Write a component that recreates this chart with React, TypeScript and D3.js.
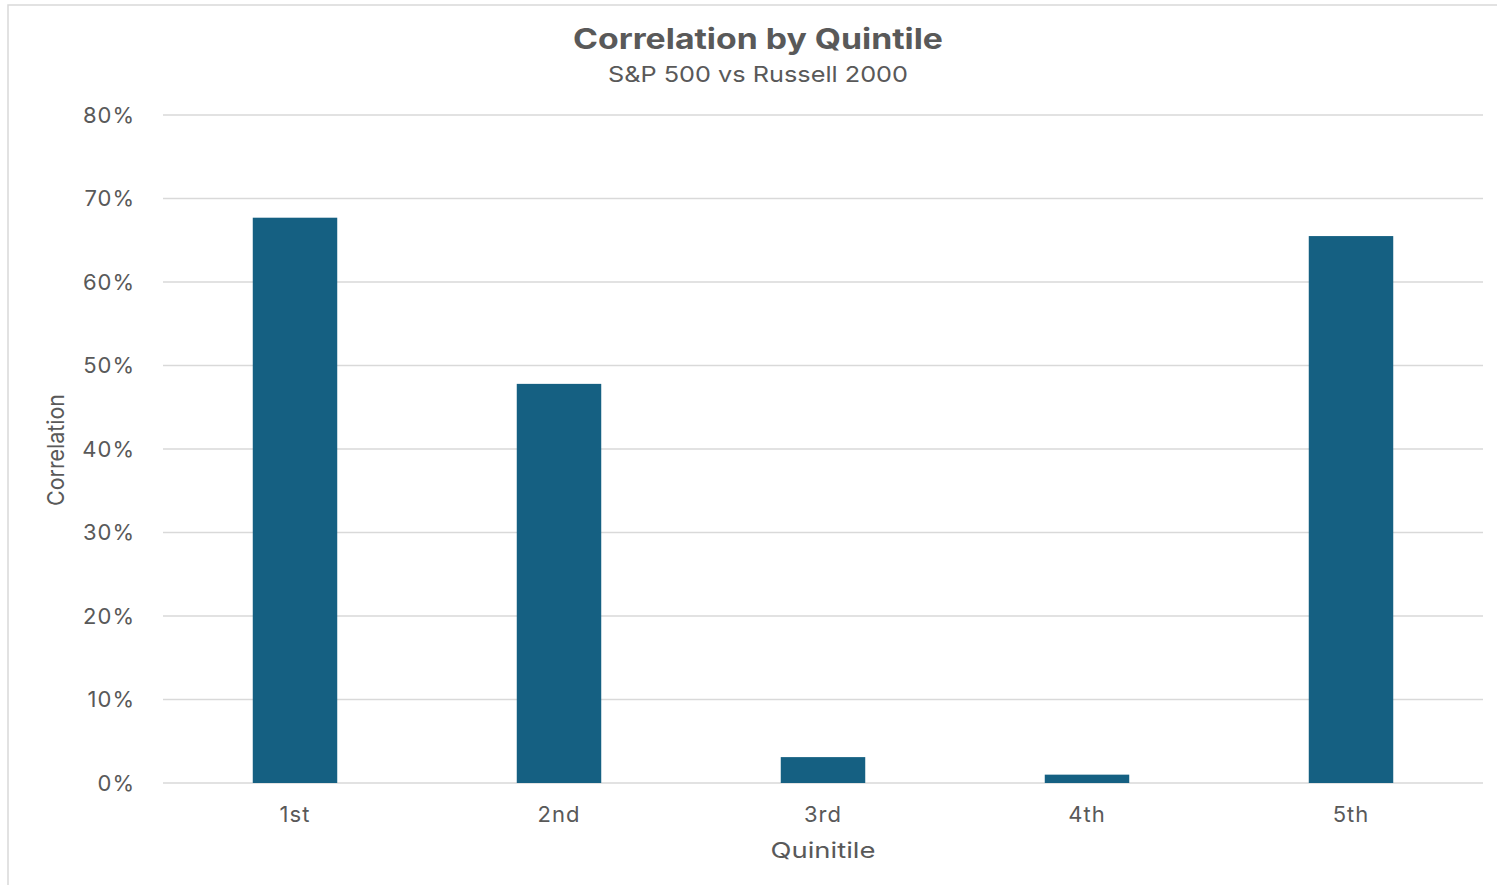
import { useEffect, useRef } from 'react';
import * as d3 from 'd3';

const categories = ['1st', '2nd', '3rd', '4th', '5th'];
const correlation = [0.677, 0.478, 0.031, 0.01, 0.655];
const yTicks = [0, 0.1, 0.2, 0.3, 0.4, 0.5, 0.6, 0.7, 0.8];

const W = 1497;
const H = 885;
const FONT = 'Inter, "Open Sans", sans-serif';
const TEXT = '#595959';

export default function App() {
  const svgRef = useRef<SVGSVGElement>(null);

  useEffect(() => {
    document.body.style.margin = '0';
    if (!svgRef.current) return;
    const svg = d3.select(svgRef.current);
    svg.selectAll('*').remove();

    const m = { top: 115, right: 14, bottom: 102, left: 163 };
    const x = d3.scaleBand<string>().domain(categories).range([m.left, W - m.right]).paddingInner(0.68).paddingOuter(0.34);
    const y = d3.scaleLinear().domain([0, 0.8]).range([H - m.bottom, m.top]);

    // frame
    svg.append('rect')
      .attr('x', 8).attr('y', 5).attr('width', W + 20).attr('height', H + 20)
      .attr('fill', 'white').attr('stroke', '#d9d9d9').attr('stroke-width', 1.5);

    // gridlines
    svg.append('g')
      .selectAll('line')
      .data(yTicks)
      .join('line')
      .attr('x1', m.left).attr('x2', W - m.right)
      .attr('y1', (d) => y(d)).attr('y2', (d) => y(d))
      .attr('stroke', '#d9d9d9').attr('stroke-width', 1.5);

    // y tick labels
    svg.append('g')
      .selectAll('text')
      .data(yTicks)
      .join('text')
      .attr('x', 135).attr('y', (d) => y(d))
      .attr('dy', '0.36em')
      .attr('text-anchor', 'end')
      .attr('font-family', FONT).attr('font-size', 22).attr('letter-spacing', 1).attr('fill', TEXT)
      .text((d) => d3.format('.0%')(d));

    // bars
    svg.append('g')
      .selectAll('rect')
      .data(categories)
      .join('rect')
      .attr('x', (d) => x(d) ?? 0)
      .attr('width', x.bandwidth())
      .attr('y', (_, i) => y(correlation[i]))
      .attr('height', (_, i) => y(0) - y(correlation[i]))
      .attr('fill', '#156082');

    // category labels
    svg.append('g')
      .selectAll('text')
      .data(categories)
      .join('text')
      .attr('x', (d) => (x(d) ?? 0) + x.bandwidth() / 2)
      .attr('y', 822)
      .attr('text-anchor', 'middle')
      .attr('font-family', FONT).attr('font-size', 22).attr('letter-spacing', 1).attr('fill', TEXT)
      .text((d) => d);

    // axis titles
    svg.append('text')
      .attr('x', (m.left + W - m.right) / 2).attr('y', 858)
      .attr('text-anchor', 'middle')
      .attr('font-family', FONT).attr('font-size', 22).attr('fill', TEXT)
      .attr('textLength', 105).attr('lengthAdjust', 'spacingAndGlyphs')
      .text('Quinitile');

    svg.append('text')
      .attr('transform', 'translate(64,450) rotate(-90)')
      .attr('text-anchor', 'middle')
      .attr('font-family', FONT).attr('font-size', 23).attr('fill', TEXT)
      .attr('textLength', 112).attr('lengthAdjust', 'spacingAndGlyphs')
      .text('Correlation');

    // title
    svg.append('text')
      .attr('x', 758).attr('y', 49)
      .attr('text-anchor', 'middle')
      .attr('font-family', FONT).attr('font-size', 28).attr('font-weight', 700).attr('fill', TEXT)
      .attr('textLength', 370).attr('lengthAdjust', 'spacingAndGlyphs')
      .text('Correlation by Quintile');

    svg.append('text')
      .attr('x', 758).attr('y', 82)
      .attr('text-anchor', 'middle')
      .attr('font-family', FONT).attr('font-size', 22).attr('fill', TEXT)
      .attr('textLength', 300).attr('lengthAdjust', 'spacingAndGlyphs')
      .text('S&P 500 vs Russell 2000');
  }, []);

  return <svg ref={svgRef} width={W} height={H} style={{ display: 'block' }} />;
}
